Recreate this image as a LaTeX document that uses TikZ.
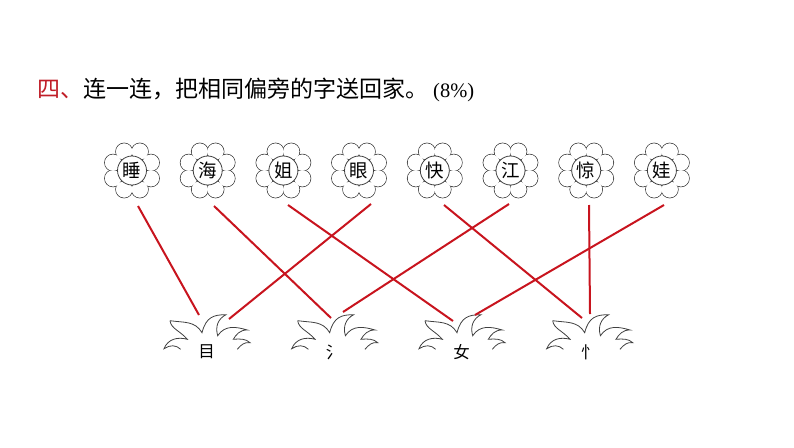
\documentclass[tikz,border=0pt]{standalone}
\usepackage{fontspec}
\setmainfont{Liberation Serif}
\newfontfamily\cjk{Noto Sans CJK SC}
\usetikzlibrary{positioning}
\definecolor{lianred}{RGB}{200,20,30}
\definecolor{tired}{RGB}{192,30,40}
\tikzset{
  petal/.style={draw=black!75, line width=0.8pt},
  petalfill/.style={fill=white},
  flowerbox/.style={circle, draw=black!75, line width=0.8pt, fill=white, minimum size=29pt, inner sep=0pt, font=\cjk\fontsize{18.5}{18.5}\selectfont},
  radical/.style={inner sep=0pt, font=\cjk\fontsize{16.5}{16.5}\selectfont},
  lianxian/.style={draw=lianred, line width=2pt},
  leaf/.style={draw=black!75, line width=0.8pt},
  pics/grass/.style={code={
    \draw[leaf] (0,0) .. controls (14,2) and (25,0) .. (32,12) .. controls (36,-4) and (44,-6) .. (56,-6)
      .. controls (48,-2) and (45,6) .. (47.7,15) .. controls (55,4) and (66,6) .. (77.3,9.3)
      .. controls (70,9) and (66,14) .. (63.3,18.6) .. controls (70,18) and (76,18) .. (80,22)
      .. controls (75,21) and (71,24) .. (67.3,28.6);
    \draw[leaf] (0,0) .. controls (1,8) and (10,10) .. (17.3,18.6) .. controls (8,16) and (-2,18) .. (-6,28)
      .. controls (0,24) and (6,24) .. (10.7,28.6);
  }},
}
\begin{document}
\begin{tikzpicture}[x=1pt, y=-1pt]
  \useasboundingbox (0,0) rectangle (794,447);
  % title
  \node[anchor=west, inner sep=0pt, font=\fontsize{23}{23}\selectfont] (title) at (37,90)
    {\cjk\textcolor{tired}{四、}连一连，把相同偏旁的字送回家。\hspace{5pt}\rmfamily\fontsize{20.5}{20.5}\selectfont(8\%)};
  % flowers
  \foreach \i/\px/\zi in {1/132/睡, 2/207.7/海, 3/283.4/姐, 4/359/眼, 5/434.8/快, 6/510.5/江, 7/586.2/惊, 8/661.9/娃} {
    \foreach \ang in {22.5,67.5,...,337.5}
      \draw[petal] (\px,170.5) ++(\ang:20.5) circle (8.5);
    \foreach \ang in {22.5,67.5,...,337.5}
      \fill[petalfill] (\px,170.5) ++(\ang:20.5) circle (8.1);
    \node[flowerbox] (hua\i) at (\px,170.5) {\zi};
  }
  % grass and radicals
  \foreach \j/\gx/\zi in {1/170/目, 2/297.7/氵, 3/425/女, 4/552.7/忄} {
    \pic (cao\j) at (\gx,320.7) {grass};
    \node[radical] (pian\j) at ({\gx+36.5},352) {\zi};
  }
  % line ends
  \foreach \i/\px/\py in {1/138/206, 2/214/206, 3/288/205, 4/371/204, 5/444/205, 6/509/204, 7/589/205, 8/664/205}
    \coordinate (top\i) at (\px,\py);
  \foreach \i/\px/\py in {1/199/315, 2/331/318, 3/453/321, 4/229/319, 5/582/318, 6/343/312, 7/590/314, 8/475/315}
    \coordinate (end\i) at (\px,\py);
  \foreach \i in {1,...,8}
    \draw[lianxian] (top\i) -- (end\i);
\end{tikzpicture}
\end{document}
